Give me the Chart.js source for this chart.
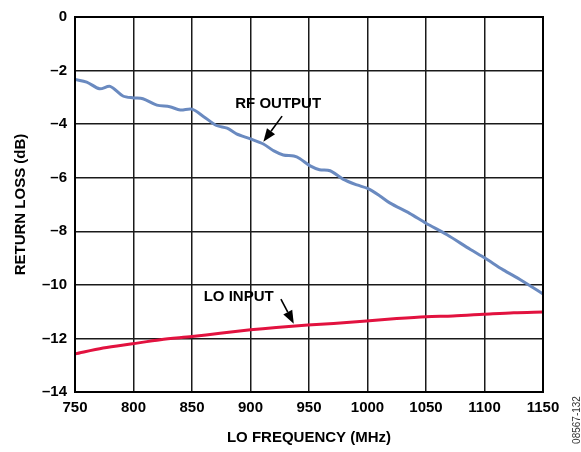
<!DOCTYPE html>
<html>
<head>
<meta charset="utf-8">
<script src="https://cdn.jsdelivr.net/npm/chart.js@4.4.1/dist/chart.umd.min.js"></script>
<style>
  html, body { margin: 0; padding: 0; background: #fff; }
  #wrap { width: 581px; height: 452px; position: relative; }
</style>
</head>
<body>
<div id="wrap"><canvas id="returnLossChart"></canvas></div>
<script>
// data
const rfFreq = [750, 760, 771, 780, 791, 800, 808, 820, 831, 840, 850, 860, 871, 880, 888, 900,
  911, 920, 928, 937, 942, 951, 959, 968, 979, 991, 1000, 1010, 1019, 1036, 1050, 1068, 1088,
  1100, 1116, 1130, 1150];
const rfOutput = [-2.33, -2.43, -2.68, -2.59, -2.95, -3.02, -3.05, -3.29, -3.35, -3.47, -3.44,
  -3.72, -4.05, -4.15, -4.36, -4.55, -4.74, -5.0, -5.15, -5.19, -5.28, -5.56, -5.7, -5.74, -6.05,
  -6.27, -6.4, -6.66, -6.94, -7.33, -7.7, -8.13, -8.68, -8.99, -9.44, -9.79, -10.34];

const loFreq = [750, 774, 799, 823, 850, 874, 900, 922, 949, 971, 999, 1025, 1050, 1073, 1099, 1125, 1150];
const loInput = [-12.58, -12.36, -12.2, -12.05, -11.93, -11.81, -11.68, -11.59, -11.5, -11.44,
  -11.35, -11.26, -11.19, -11.16, -11.1, -11.04, -11.01];

const xTicks = [750, 800, 850, 900, 950, 1000, 1050, 1100, 1150];
const yTicks = [0, -2, -4, -6, -8, -10, -12, -14];

const FONT = '"Liberation Sans", Arial, Helvetica, sans-serif';

const toPoints = (xs, ys) => xs.map((x, i) => ({ x: x, y: ys[i] }));

// callouts placed in data coordinates
const callouts = [
  { text: 'RF OUTPUT', tx: 887, ty: -3.25, from: [927, -3.7], to: [911, -4.66] },
  { text: 'LO INPUT', tx: 860, ty: -10.46, from: [926, -10.53], to: [937, -11.45] }
];

const extras = {
  id: 'extras',
  afterDraw(chart) {
    const { ctx, chartArea: a, scales: { x, y } } = chart;
    ctx.save();
    // heavier frame
    ctx.strokeStyle = '#000';
    ctx.lineWidth = 2;
    ctx.strokeRect(a.left, a.top, a.right - a.left, a.bottom - a.top);

    ctx.fillStyle = '#000';
    ctx.font = 'bold 15px ' + FONT;
    ctx.textBaseline = 'middle';
    ctx.textAlign = 'left';
    callouts.forEach(c => {
      ctx.fillText(c.text, x.getPixelForValue(c.tx), y.getPixelForValue(c.ty));
      const x1 = x.getPixelForValue(c.from[0]), y1 = y.getPixelForValue(c.from[1]);
      const x2 = x.getPixelForValue(c.to[0]), y2 = y.getPixelForValue(c.to[1]);
      const ang = Math.atan2(y2 - y1, x2 - x1);
      const hl = 13, hw = 5;
      const bx = x2 - hl * Math.cos(ang), by = y2 - hl * Math.sin(ang);
      ctx.lineWidth = 1.6;
      ctx.beginPath();
      ctx.moveTo(x1, y1);
      ctx.lineTo(bx, by);
      ctx.stroke();
      ctx.beginPath();
      ctx.moveTo(x2, y2);
      ctx.lineTo(bx + hw * Math.sin(ang), by - hw * Math.cos(ang));
      ctx.lineTo(bx - hw * Math.sin(ang), by + hw * Math.cos(ang));
      ctx.closePath();
      ctx.fill();
    });

    // figure id at the right edge
    ctx.translate(577, 420);
    ctx.rotate(-Math.PI / 2);
    ctx.font = '10px ' + FONT;
    ctx.fillStyle = '#333';
    ctx.textAlign = 'center';
    ctx.fillText('08567-132', 0, 0);
    ctx.restore();
  }
};

new Chart(document.getElementById('returnLossChart'), {
  type: 'line',
  data: {
    datasets: [
      {
        label: 'RF OUTPUT',
        data: toPoints(rfFreq, rfOutput),
        borderColor: '#6a8ac0',
        borderWidth: 3,
        pointRadius: 0,
        tension: 0.3
      },
      {
        label: 'LO INPUT',
        data: toPoints(loFreq, loInput),
        borderColor: '#e2123f',
        borderWidth: 3,
        pointRadius: 0,
        tension: 0.3
      }
    ]
  },
  options: {
    responsive: true,
    maintainAspectRatio: false,
    animation: false,
    layout: { padding: { top: 10, right: 38, left: 0, bottom: 0 } },
    plugins: {
      legend: { display: false },
      tooltip: { enabled: false }
    },
    scales: {
      x: {
        type: 'linear',
        min: 750,
        max: 1150,
        afterBuildTicks: s => { s.ticks = xTicks.map(v => ({ value: v })); },
        afterFit: s => { s.height = 60; },
        grid: { color: '#1a1a1a', lineWidth: 1.5, drawTicks: false },
        border: { color: '#000', width: 2 },
        ticks: {
          color: '#000',
          font: { family: FONT, size: 15, weight: 'bold' },
          padding: 7,
          maxRotation: 0,
          callback: v => String(v)
        },
        title: {
          display: true,
          text: 'LO FREQUENCY (MHz)',
          color: '#000',
          font: { family: FONT, size: 15, weight: 'bold' },
          padding: { top: 0, bottom: 5 }
        }
      },
      y: {
        min: -14,
        max: 0,
        afterBuildTicks: s => { s.ticks = yTicks.map(v => ({ value: v })); },
        afterFit: s => { s.width = 75; },
        grid: { color: '#1a1a1a', lineWidth: 1.5, drawTicks: false },
        border: { color: '#000', width: 2 },
        ticks: {
          color: '#000',
          font: { family: FONT, size: 15, weight: 'bold' },
          padding: 8,
          callback: v => String(v).replace('-', '\u2013')
        },
        title: {
          display: true,
          text: 'RETURN LOSS (dB)',
          color: '#000',
          font: { family: FONT, size: 15, weight: 'bold' },
          padding: { top: 12, bottom: 0 }
        }
      }
    }
  },
  plugins: [extras]
});
</script>
</body>
</html>
